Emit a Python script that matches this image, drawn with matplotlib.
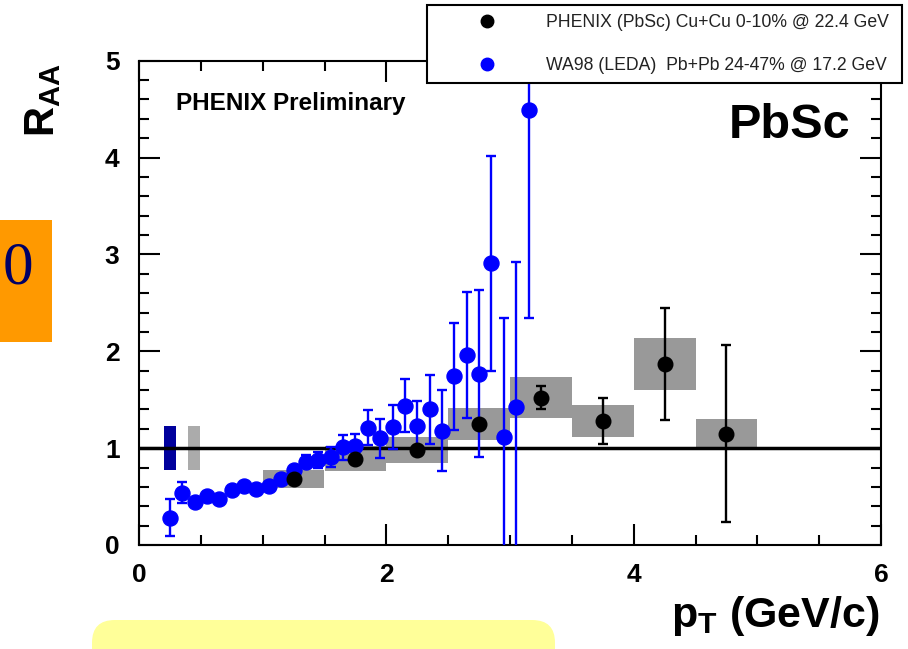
import numpy as np
import matplotlib.pyplot as plt
from matplotlib.patches import Rectangle, FancyBboxPatch
from matplotlib.lines import Line2D

plt.rcParams['font.family'] = ['Liberation Sans', 'DejaVu Sans']
plt.rcParams['mathtext.fontset'] = 'custom'
plt.rcParams['mathtext.bf'] = 'Liberation Sans:bold'
plt.rcParams['mathtext.rm'] = 'Liberation Sans'
plt.rcParams['mathtext.it'] = 'Liberation Sans:italic'

# PHENIX (PbSc) Cu+Cu 0-10% @ 22.4 GeV
phx_pt = [1.25, 1.75, 2.25, 2.75, 3.25, 3.75, 4.25, 4.75]
phx_raa = [0.68, 0.89, 0.98, 1.25, 1.52, 1.28, 1.87, 1.15]
phx_stat = [0.03, 0.03, 0.03, 0.03, 0.12, 0.24, 0.58, 0.91]
phx_sys = [0.09, 0.13, 0.13, 0.165, 0.21, 0.17, 0.265, 0.155]
phx_binw = 0.5

# WA98 (LEDA) Pb+Pb 24-47% @ 17.2 GeV
wa98_pt = [0.25, 0.35, 0.45, 0.55, 0.65, 0.75, 0.85, 0.95, 1.05, 1.15,
           1.25, 1.35, 1.45, 1.55, 1.65, 1.75, 1.85, 1.95, 2.05, 2.15,
           2.25, 2.35, 2.45, 2.55, 2.65, 2.75, 2.85, 2.95, 3.05, 3.15]
wa98_raa = [0.28, 0.54, 0.44, 0.51, 0.48, 0.57, 0.61, 0.58, 0.61, 0.68,
            0.77, 0.86, 0.88, 0.91, 1.01, 1.02, 1.21, 1.10, 1.22, 1.44,
            1.23, 1.40, 1.18, 1.74, 1.96, 1.77, 2.91, 1.12, 1.42, 4.49]
wa98_err = [0.19, 0.11, 0.04, 0.04, 0.04, 0.04, 0.04, 0.04, 0.04, 0.04,
            0.05, 0.07, 0.08, 0.10, 0.13, 0.13, 0.18, 0.20, 0.23, 0.27,
            0.26, 0.36, 0.42, 0.55, 0.65, 0.86, 1.11, 1.22, 1.50, 2.15]

# normalisation uncertainties (WA98, PHENIX)
norm_err = [0.23, 0.23]

labels = ['PHENIX (PbSc) Cu+Cu 0-10% @ 22.4 GeV',
          'WA98 (LEDA)  Pb+Pb 24-47% @ 17.2 GeV']

W, H = 908, 649
fig = plt.figure(figsize=(W / 100, H / 100), dpi=100)
ax = fig.add_axes([139 / W, 1 - 545 / H, 742 / W, 484.3 / H])

# systematic error boxes
for x, y, s in zip(phx_pt, phx_raa, phx_sys):
    ax.add_patch(Rectangle((x - phx_binw / 2, y - s), phx_binw, 2 * s,
                           facecolor='#999999', edgecolor='none', zorder=1))

# normalisation boxes at unity
ax.add_patch(Rectangle((0.20, 1 - norm_err[0]), 0.10, 2 * norm_err[0],
                       facecolor='#00009C', edgecolor='none', zorder=1))
ax.add_patch(Rectangle((0.40, 1 - norm_err[1]), 0.09, 2 * norm_err[1],
                       facecolor='#ABABAB', edgecolor='none', zorder=1))

ax.axhline(1.0, color='black', lw=2.5, zorder=2)

ax.errorbar(wa98_pt, wa98_raa, yerr=wa98_err, fmt='o', color='#0000FF',
            ms=10.8, elinewidth=1.7, capsize=3.4, capthick=1.7, zorder=3)
ax.errorbar(phx_pt, phx_raa, yerr=phx_stat, fmt='o', color='black',
            ms=10.5, elinewidth=1.7, capsize=3.8, capthick=1.7, zorder=4)

ax.set_xlim(0, 6)
ax.set_ylim(0, 5)
ax.set_xticks([0, 2, 4, 6])
ax.set_xticks(np.arange(0, 6.01, 0.5), minor=True)
ax.set_yticks([0, 1, 2, 3, 4, 5])
ax.set_yticks(np.arange(0, 5.01, 0.2), minor=True)
ax.tick_params(which='both', direction='in', top=True, right=True, width=1.5)
ax.tick_params(which='major', length=15)
ax.tick_params(which='minor', length=7.5)
ax.tick_params(axis='x', which='major', pad=13)
ax.tick_params(axis='y', which='major', pad=14)
for lab in ax.get_xticklabels() + ax.get_yticklabels():
    lab.set_fontsize(19)
    lab.set_fontweight('bold')
for sp in ax.spines.values():
    sp.set_linewidth(1.5)

fig.text(176 / W, 1 - 110 / H, 'PHENIX Preliminary', fontsize=17.5,
         fontweight='bold', ha='left', va='baseline')
fig.text(850 / W, 1 - 138 / H, 'PbSc', fontsize=35, fontweight='bold',
         ha='right', va='baseline')

fig.text(43 / W, 1 - 100 / H, r'$\mathbf{R}_{\mathbf{AA}}$', fontsize=30,
         rotation=90, ha='center', va='center')
fig.text(880 / W, 1 - 627 / H, r'$\mathbf{p}_{\mathbf{T}}$ (GeV/c)',
         fontsize=31, fontweight='bold', ha='right', va='baseline')

handles = [Line2D([], [], ls='none', marker='o', color='black', ms=9),
           Line2D([], [], ls='none', marker='o', color='#0000FF', ms=9)]
leg = ax.legend(handles, labels, loc='upper left', mode='expand',
                bbox_to_anchor=(427 / W, 1 - 82 / H, 475 / W, 77 / H),
                bbox_transform=fig.transFigure, fontsize=12.7,
                frameon=True, fancybox=False, framealpha=1,
                borderpad=0.5, handlelength=5.85, handletextpad=0.38,
                labelspacing=1.48, borderaxespad=0)
leg.get_frame().set_edgecolor('black')
leg.get_frame().set_linewidth(1.5)
for t in leg.get_texts():
    t.set_color('#222222')

# side decorations
fig.patches.append(Rectangle((0, 1 - 342 / H), 52 / W, 122 / H,
                             transform=fig.transFigure, facecolor='#FF9900',
                             edgecolor='none'))
fig.text(18 / W, 1 - 269 / H, '0', fontsize=44, color='#000066',
         family=['Liberation Serif', 'DejaVu Serif'], ha='center', va='center')
fig.patches.append(FancyBboxPatch((92 / W, -0.05), 463 / W, 1 - 620 / H + 0.05,
                                  boxstyle='round,pad=0,rounding_size=0.025',
                                  transform=fig.transFigure, facecolor='#FFFF99',
                                  edgecolor='none', mutation_aspect=W / H))

fig.savefig('out.png', dpi=100)
